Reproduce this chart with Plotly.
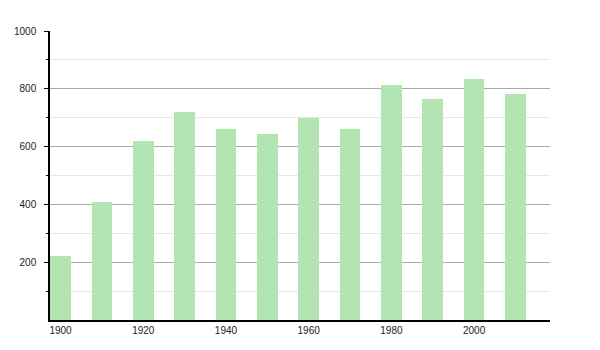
import plotly.graph_objects as go

years = [1900, 1910, 1920, 1930, 1940, 1950, 1960, 1970, 1980, 1990, 2000, 2010]
population = [221, 408, 619, 720, 660, 644, 700, 660, 813, 765, 834, 783]
x_ticks = [1900, 1920, 1940, 1960, 1980, 2000]
y_ticks = [200, 400, 600, 800, 1000]

fig = go.Figure(go.Bar(
    x=years, y=population, width=5,
    marker=dict(color="#b2e5b2", line=dict(width=0)),
    hoverinfo="x+y",
))

fig.update_layout(
    width=600, height=350,
    margin=dict(l=50, r=50, t=31, b=30),
    paper_bgcolor="white", plot_bgcolor="white",
    font=dict(family="Liberation Sans, Arial, sans-serif", size=10, color="#222"),
    showlegend=False,
    bargap=0,
)
fig.update_xaxes(
    range=[1897.45, 2018.35],
    tickvals=x_ticks, ticktext=[str(v) for v in x_ticks],
    showgrid=False, zeroline=False,
    showline=True, linecolor="black", linewidth=1.5,
    ticks="", ticklen=0,
)
fig.update_yaxes(
    range=[0, 1000],
    tickvals=y_ticks, ticktext=[str(v) for v in y_ticks],
    showgrid=True, gridcolor="#aaaaaa", gridwidth=1,
    zeroline=False,
    showline=True, linecolor="black", linewidth=1.5,
    ticks="outside", ticklen=4, tickcolor="black", tickwidth=1,
    ticklabelstandoff=6,
    minor=dict(tickvals=[100, 300, 500, 700, 900], ticks="outside", ticklen=2,
               tickcolor="black", showgrid=True, gridcolor="#e6e6e6", gridwidth=1),
)

fig.write_html("out.html")
